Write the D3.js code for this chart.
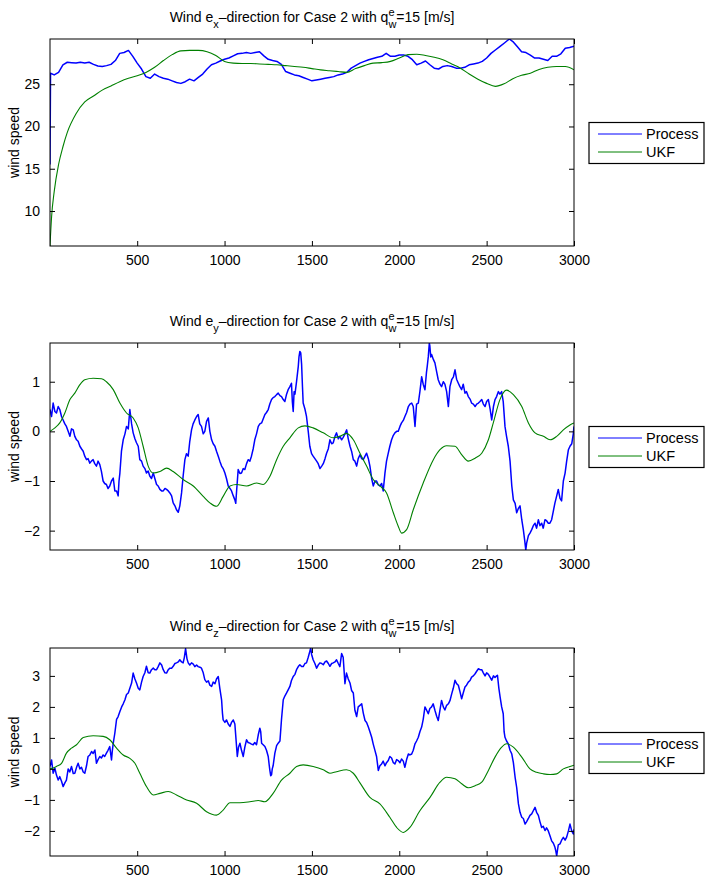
<!DOCTYPE html>
<html>
<head>
<meta charset="utf-8">
<script src="https://cdn.jsdelivr.net/npm/d3@7"></script>
<style>
  body { margin: 0; background: #fff; }
  svg { display: block; font-family: "Liberation Sans", Arial, Helvetica, sans-serif; }
</style>
</head>
<body>
<svg id="chart" width="705" height="878"></svg>
<script>
// ---- data: [time step, wind speed] ----
const xTickValues = [500, 1000, 1500, 2000, 2500, 3000];

const yTicksX = [10, 15, 20, 25];
const yTicksY = [-2, -1, 0, 1];
const yTicksZ = [-2, -1, 0, 1, 2, 3];

const processX = [[1,15.5],[4,26.3],[25,26.1],[50,26.4],[75,27.3],[100,27.6],[125,27.55],[150,27.5],[175,27.6],[200,27.5],[225,27.6],[250,27.35],[275,27.15],[300,27.1],[325,27.2],[350,27.35],[375,27.8],[400,28.65],[425,28.75],[450,29.0],[475,28.3],[500,27.5],[525,26.8],[550,25.9],[575,25.7],[600,26.2],[625,25.9],[650,25.7],[675,25.6],[700,25.4],[725,25.2],[750,25.1],[775,25.3],[800,25.6],[825,25.4],[850,25.8],[875,26.2],[900,26.8],[925,27.3],[950,27.5],[975,27.75],[1000,27.95],[1025,28.1],[1050,28.35],[1075,28.6],[1100,28.65],[1125,28.75],[1150,28.65],[1175,28.75],[1200,28.85],[1225,28.35],[1250,27.95],[1275,27.8],[1300,27.7],[1325,27.35],[1350,26.5],[1375,26.3],[1400,26.1],[1425,26.0],[1450,25.8],[1475,25.6],[1500,25.4],[1525,25.5],[1550,25.6],[1575,25.7],[1600,25.8],[1625,25.9],[1650,26.1],[1675,26.2],[1700,26.4],[1725,26.9],[1750,27.2],[1775,27.5],[1800,27.7],[1825,27.9],[1850,28.05],[1875,28.2],[1900,28.3],[1925,28.65],[1950,28.3],[1975,28.3],[2000,28.45],[2025,28.45],[2050,28.3],[2075,27.9],[2100,27.3],[2125,27.5],[2150,27.75],[2175,27.3],[2200,26.9],[2225,26.8],[2250,27.1],[2275,27.2],[2300,27.1],[2325,26.9],[2350,26.9],[2375,27.0],[2400,27.3],[2425,27.4],[2450,27.5],[2475,27.7],[2500,28.1],[2525,28.65],[2550,29.05],[2575,29.45],[2600,29.85],[2630,30.35],[2650,30.05],[2675,29.45],[2700,28.85],[2725,28.75],[2750,28.45],[2775,28.1],[2800,28.1],[2825,27.95],[2850,27.8],[2875,28.3],[2900,28.3],[2925,28.6],[2950,29.25],[2975,29.35],[3000,29.5]];

const ukfX = [[1,5.86],[10,9.3],[25,12.3],[50,15.5],[75,17.6],[100,19.3],[150,21.5],[200,22.9],[250,23.6],[300,24.3],[350,24.8],[400,25.3],[450,25.7],[500,26.0],[550,26.4],[600,27.0],[650,27.8],[700,28.5],[750,28.95],[800,29.0],[850,29.0],[900,28.85],[950,28.4],[1000,27.7],[1050,27.5],[1100,27.45],[1150,27.45],[1200,27.4],[1250,27.35],[1300,27.3],[1350,27.2],[1400,27.1],[1450,27.0],[1500,26.85],[1550,26.7],[1600,26.6],[1650,26.5],[1700,26.4],[1750,26.85],[1800,27.2],[1850,27.5],[1900,27.55],[1950,27.7],[2000,28.1],[2050,28.5],[2100,28.55],[2150,28.4],[2200,28.2],[2250,27.9],[2300,27.4],[2350,26.9],[2400,26.2],[2450,25.6],[2500,25.1],[2550,24.75],[2600,25.05],[2650,25.65],[2700,26.05],[2750,26.3],[2800,26.75],[2850,27.0],[2900,27.1],[2950,27.1],[3000,26.7]];

const processY = [[1,0.44],[10,0.3],[19,0.57],[29,0.4],[38,0.37],[48,0.5],[57,0.44],[67,0.3],[76,0.23],[86,0.15],[95,0.1],[105,0.0],[115,-0.1],[124,0.05],[134,0.03],[143,-0.1],[153,-0.17],[162,-0.2],[172,-0.3],[181,-0.35],[191,-0.4],[200,-0.5],[210,-0.57],[219,-0.55],[229,-0.64],[238,-0.6],[248,-0.57],[257,-0.65],[267,-0.7],[276,-0.6],[286,-0.67],[295,-0.8],[305,-1.0],[314,-1.05],[324,-1.07],[333,-1.15],[343,-1.1],[353,-1.0],[363,-0.94],[372,-1.2],[382,-1.2],[391,-1.3],[396,-1.0],[401,-0.84],[410,-0.4],[420,-0.17],[430,-0.05],[439,0.1],[449,0.05],[458,0.44],[468,0.15],[477,-0.03],[487,-0.15],[496,-0.23],[506,-0.3],[515,-0.57],[525,-0.6],[534,-0.7],[544,-0.75],[553,-0.84],[563,-0.8],[572,-0.9],[582,-0.95],[592,-0.84],[601,-0.95],[611,-1.07],[620,-1.1],[630,-1.17],[640,-1.2],[649,-1.2],[659,-1.15],[668,-1.17],[678,-1.2],[687,-1.24],[697,-1.3],[706,-1.44],[716,-1.5],[725,-1.58],[735,-1.63],[744,-1.5],[754,-1.24],[763,-0.9],[773,-0.57],[782,-0.45],[792,-0.5],[801,-0.2],[811,0.03],[820,0.15],[830,0.23],[840,0.3],[849,0.34],[858,0.15],[868,0.1],[878,-0.05],[887,0.0],[897,0.2],[907,0.27],[916,0.0],[926,-0.17],[935,-0.25],[945,-0.3],[954,-0.4],[964,-0.5],[973,-0.6],[983,-0.7],[992,-0.75],[1002,-0.84],[1011,-0.95],[1021,-1.1],[1031,-1.15],[1040,-1.2],[1050,-1.3],[1059,-1.38],[1064,-1.45],[1069,-1.2],[1078,-0.77],[1088,-0.85],[1097,-0.84],[1107,-0.75],[1116,-0.77],[1126,-0.65],[1135,-0.57],[1145,-0.6],[1154,-0.5],[1164,-0.35],[1173,-0.17],[1183,-0.05],[1193,0.1],[1202,0.15],[1212,0.17],[1221,0.25],[1231,0.34],[1240,0.38],[1250,0.44],[1259,0.55],[1269,0.64],[1278,0.68],[1288,0.7],[1298,0.74],[1307,0.77],[1317,0.72],[1326,0.7],[1336,0.64],[1345,0.6],[1355,0.75],[1364,0.84],[1374,0.9],[1383,0.97],[1388,0.6],[1393,0.4],[1398,0.8],[1403,0.75],[1412,1.0],[1422,1.31],[1426,1.5],[1431,1.61],[1436,1.58],[1441,1.35],[1446,0.9],[1450,0.57],[1460,0.45],[1469,0.3],[1479,0.0],[1488,-0.3],[1498,-0.45],[1507,-0.5],[1517,-0.55],[1527,-0.6],[1536,-0.65],[1546,-0.75],[1556,-0.7],[1565,-0.65],[1575,-0.55],[1584,-0.44],[1594,-0.35],[1603,-0.17],[1613,-0.25],[1622,-0.23],[1632,-0.1],[1641,-0.03],[1651,-0.15],[1660,-0.1],[1670,-0.17],[1679,-0.12],[1689,-0.05],[1699,0.03],[1708,-0.15],[1718,-0.3],[1727,-0.4],[1737,-0.57],[1746,-0.6],[1756,-0.7],[1765,-0.55],[1775,-0.47],[1785,-0.55],[1794,-0.57],[1804,-0.5],[1813,-0.44],[1823,-0.55],[1832,-0.7],[1842,-0.95],[1851,-1.1],[1861,-1.0],[1870,-1.0],[1880,-1.08],[1889,-1.1],[1899,-1.05],[1908,-1.2],[1918,-0.84],[1927,-0.6],[1937,-0.44],[1946,-0.3],[1956,-0.17],[1966,-0.08],[1975,-0.03],[1985,0.0],[1994,0.0],[2004,0.1],[2013,0.17],[2023,0.22],[2032,0.3],[2042,0.38],[2052,0.5],[2061,0.55],[2071,0.57],[2080,0.5],[2090,0.1],[2099,0.55],[2109,0.57],[2118,0.8],[2128,1.1],[2137,0.95],[2147,0.84],[2156,1.2],[2160,1.31],[2166,1.5],[2172,1.78],[2175,1.72],[2180,1.5],[2185,1.55],[2195,1.45],[2204,1.38],[2214,1.2],[2223,1.04],[2233,0.95],[2242,0.9],[2252,1.0],[2261,0.95],[2271,0.8],[2281,0.5],[2290,0.9],[2300,1.04],[2310,1.1],[2319,1.24],[2328,1.05],[2338,0.97],[2347,0.9],[2357,0.84],[2366,0.95],[2376,0.77],[2385,0.8],[2395,0.7],[2405,0.65],[2414,0.57],[2424,0.55],[2434,0.5],[2443,0.55],[2453,0.57],[2462,0.6],[2472,0.64],[2481,0.55],[2491,0.5],[2500,0.6],[2510,0.64],[2520,0.45],[2529,0.23],[2539,0.5],[2548,0.64],[2557,0.7],[2567,0.8],[2576,0.75],[2586,0.8],[2595,0.6],[2605,0.1],[2614,-0.1],[2624,-0.3],[2634,-0.6],[2644,-1.1],[2653,-1.38],[2663,-1.45],[2672,-1.64],[2682,-1.55],[2691,-1.5],[2701,-1.78],[2710,-1.98],[2718,-2.2],[2724,-2.39],[2729,-2.25],[2739,-2.1],[2748,-2.05],[2758,-1.98],[2767,-1.9],[2777,-1.85],[2786,-1.95],[2796,-1.78],[2805,-1.9],[2815,-1.85],[2824,-1.95],[2834,-1.78],[2843,-1.8],[2853,-1.85],[2862,-1.85],[2872,-1.78],[2882,-1.6],[2891,-1.44],[2901,-1.3],[2910,-1.17],[2920,-1.35],[2929,-1.4],[2939,-1.0],[2949,-0.84],[2958,-0.6],[2968,-0.37],[2977,-0.3],[2987,-0.25],[2996,-0.05],[3000,0.1]];

const ukfY = [[1,0],[29,0.07],[57,0.17],[86,0.37],[115,0.64],[143,0.77],[172,0.94],[200,1.04],[248,1.07],[296,1.06],[324,1.0],[363,0.84],[401,0.57],[439,0.37],[477,0.27],[506,0.07],[534,-0.3],[563,-0.7],[592,-0.84],[630,-0.81],[668,-0.74],[706,-0.81],[763,-0.97],[821,-1.1],[878,-1.31],[916,-1.44],[954,-1.51],[992,-1.31],[1031,-1.1],[1069,-1.07],[1126,-1.1],[1183,-1.04],[1221,-1.07],[1259,-0.91],[1298,-0.57],[1336,-0.3],[1374,-0.13],[1422,0.07],[1460,0.11],[1507,0.07],[1565,-0.03],[1622,-0.13],[1660,-0.1],[1698,-0.04],[1737,-0.17],[1775,-0.44],[1813,-0.7],[1851,-0.97],[1889,-1.1],[1927,-1.24],[1966,-1.64],[1994,-1.91],[2013,-2.05],[2042,-1.98],[2080,-1.58],[2137,-1.04],[2195,-0.57],[2233,-0.37],[2271,-0.29],[2319,-0.3],[2357,-0.47],[2395,-0.6],[2434,-0.54],[2472,-0.44],[2510,-0.17],[2538,0.17],[2576,0.64],[2614,0.83],[2653,0.74],[2701,0.5],[2739,0.17],[2777,-0.03],[2825,-0.1],[2863,-0.17],[2901,-0.1],[2939,0.03],[2977,0.13],[3000,0.17]];

const processZ = [[1,0.08],[10,0.29],[19,-0.14],[29,0.02],[38,-0.2],[48,-0.36],[57,-0.25],[67,-0.4],[76,-0.57],[86,-0.45],[95,-0.36],[105,0.0],[114,-0.1],[124,0.08],[134,-0.15],[143,-0.14],[153,0.05],[162,0.18],[172,0.0],[181,0.05],[191,-0.1],[200,-0.14],[210,0.1],[219,0.4],[229,0.45],[239,0.56],[248,0.5],[258,0.61],[267,0.18],[276,0.3],[286,0.4],[295,0.35],[305,0.45],[314,0.4],[324,0.51],[333,0.6],[343,0.72],[353,0.29],[358,0.6],[363,0.83],[372,1.15],[382,1.6],[391,1.69],[401,1.85],[411,2.0],[420,2.1],[430,2.23],[439,2.4],[449,2.45],[458,2.6],[468,2.77],[477,3.09],[487,2.9],[496,2.77],[506,2.6],[515,2.55],[525,2.8],[534,2.98],[544,3.1],[553,3.31],[563,3.1],[572,3.09],[582,3.2],[592,3.25],[601,3.2],[611,3.2],[620,3.3],[630,3.42],[640,3.35],[649,3.2],[659,3.1],[668,3.09],[678,3.2],[687,3.25],[697,3.25],[706,3.31],[716,3.4],[725,3.42],[735,3.45],[744,3.52],[754,3.45],[763,3.42],[770,3.6],[777,3.88],[785,3.55],[792,3.42],[801,3.35],[811,3.42],[821,3.38],[830,3.3],[840,3.35],[849,3.3],[859,3.28],[868,3.25],[878,3.1],[887,2.88],[897,2.8],[907,2.84],[916,2.7],[926,2.66],[935,2.8],[945,2.75],[954,2.9],[964,2.98],[973,2.6],[983,2.23],[988,1.8],[992,1.58],[1002,1.5],[1011,1.58],[1021,1.45],[1031,1.37],[1040,1.5],[1050,1.58],[1059,1.45],[1065,1.0],[1073,0.4],[1080,0.7],[1088,0.83],[1097,0.6],[1107,0.4],[1116,0.7],[1126,0.94],[1135,0.85],[1145,0.83],[1154,0.8],[1164,0.78],[1173,0.85],[1183,0.78],[1193,1.1],[1202,1.31],[1207,1.2],[1212,0.83],[1221,0.78],[1231,0.72],[1240,0.6],[1250,0.4],[1255,0.15],[1259,-0.03],[1264,-0.22],[1269,-0.19],[1273,0.0],[1278,0.1],[1288,0.51],[1298,0.75],[1307,0.83],[1317,0.9],[1326,1.6],[1336,2.23],[1345,2.35],[1355,2.45],[1364,2.55],[1374,2.66],[1383,2.85],[1393,2.98],[1403,3.05],[1412,3.2],[1422,3.3],[1431,3.36],[1441,3.3],[1450,3.3],[1460,3.4],[1469,3.42],[1479,3.6],[1488,3.79],[1493,3.9],[1498,3.7],[1507,3.52],[1517,3.4],[1527,3.25],[1536,3.35],[1546,3.42],[1556,3.4],[1565,3.36],[1575,3.45],[1584,3.48],[1594,3.4],[1603,3.31],[1613,3.4],[1622,3.42],[1632,3.45],[1641,3.52],[1651,3.4],[1660,3.3],[1670,3.72],[1679,3.6],[1689,2.75],[1698,3.09],[1708,2.9],[1718,2.77],[1727,2.53],[1737,2.45],[1746,1.89],[1756,1.69],[1765,2.0],[1775,2.05],[1785,2.1],[1794,1.8],[1804,1.56],[1813,1.5],[1823,1.35],[1832,1.2],[1842,1.02],[1851,0.8],[1861,0.59],[1870,0.4],[1880,-0.05],[1889,0.1],[1899,0.16],[1908,0.25],[1918,0.1],[1927,0.2],[1937,0.27],[1946,0.4],[1956,0.35],[1966,0.2],[1975,0.16],[1985,0.3],[1994,0.27],[2004,0.2],[2013,0.32],[2023,0.25],[2032,0.05],[2042,0.3],[2052,0.48],[2061,0.45],[2071,0.48],[2080,0.6],[2090,0.81],[2099,0.9],[2109,1.02],[2118,1.2],[2128,1.35],[2137,1.6],[2147,2.0],[2156,1.9],[2166,1.78],[2175,1.95],[2185,2.0],[2194,2.1],[2204,1.89],[2214,1.7],[2223,1.56],[2233,1.9],[2242,2.21],[2252,2.0],[2261,1.9],[2271,2.05],[2281,2.1],[2290,2.2],[2300,2.42],[2309,2.6],[2319,2.86],[2328,2.75],[2338,2.7],[2347,2.5],[2357,2.26],[2366,2.45],[2376,2.64],[2385,2.7],[2395,2.8],[2405,2.85],[2414,2.96],[2424,3.0],[2434,3.07],[2443,3.15],[2453,3.23],[2462,3.2],[2472,3.2],[2481,3.1],[2491,3.0],[2500,3.1],[2510,3.05],[2520,2.95],[2529,2.86],[2539,3.0],[2548,2.95],[2557,3.0],[2562,3.02],[2570,2.6],[2577,2.32],[2586,2.0],[2595,1.78],[2600,1.2],[2605,1.02],[2614,0.9],[2624,0.81],[2634,0.6],[2644,0.48],[2653,0.2],[2663,-0.27],[2672,-0.6],[2682,-1.13],[2691,-1.4],[2701,-1.56],[2710,-1.6],[2720,-1.78],[2729,-1.7],[2739,-1.6],[2748,-1.5],[2758,-1.45],[2767,-1.35],[2777,-1.24],[2786,-1.4],[2796,-1.5],[2805,-1.7],[2815,-1.89],[2824,-1.85],[2834,-1.99],[2843,-1.9],[2853,-2.0],[2862,-2.15],[2872,-2.32],[2882,-2.4],[2891,-2.53],[2896,-2.65],[2901,-2.81],[2906,-2.6],[2910,-2.45],[2920,-2.42],[2929,-2.3],[2939,-2.21],[2949,-2.3],[2958,-2.2],[2968,-2.0],[2977,-1.78],[2987,-2.0],[2996,-2.1],[3000,-1.95]];

const ukfZ = [[1,0],[38,0.08],[67,0.18],[95,0.51],[124,0.67],[153,0.78],[191,1.01],[248,1.07],[305,1.05],[343,0.94],[382,0.67],[420,0.45],[458,0.34],[487,0.18],[515,-0.14],[553,-0.57],[592,-0.84],[630,-0.79],[678,-0.73],[725,-0.84],[783,-1.0],[840,-1.11],[897,-1.38],[954,-1.49],[992,-1.33],[1031,-1.09],[1088,-1.09],[1145,-1.06],[1193,-1.02],[1231,-1.06],[1278,-0.79],[1326,-0.36],[1374,-0.14],[1412,0.08],[1450,0.13],[1507,0.08],[1565,-0.03],[1603,-0.14],[1641,-0.09],[1698,-0.03],[1737,-0.14],[1775,-0.45],[1832,-0.92],[1889,-1.13],[1946,-1.56],[1985,-1.89],[2023,-2.05],[2061,-1.89],[2118,-1.35],[2176,-0.92],[2233,-0.43],[2271,-0.27],[2319,-0.32],[2357,-0.48],[2395,-0.61],[2434,-0.54],[2472,-0.43],[2510,-0.05],[2548,0.38],[2586,0.7],[2614,0.81],[2653,0.7],[2701,0.38],[2748,0.0],[2786,-0.11],[2825,-0.16],[2863,-0.18],[2901,-0.16],[2939,0.0],[2977,0.08],[3000,0.12]];

const seriesNames = ["Process", "UKF"];
const seriesColors = ["#0000ff", "#008000"];

// ---- layout ----
const svg = d3.select("#chart");
const left = 50, right = 574;
const panels = [
  { sub: "x", process: processX, ukf: ukfX, ticks: yTicksX, top: 39,  bottom: 246 },
  { sub: "y", process: processY, ukf: ukfY, ticks: yTicksY, top: 343, bottom: 550 },
  { sub: "z", process: processZ, ukf: ukfZ, ticks: yTicksZ, top: 648, bottom: 856 }
];
const fmt = v => (v < 0 ? "\u2212" + Math.abs(v) : String(v));

panels.forEach((p, i) => {
  const x = d3.scaleLinear().domain([1, 3000]).range([left, right]);
  // tight limits: the axis spans exactly the data range
  const ext = d3.extent(p.process.concat(p.ukf), d => d[1]);
  const y = d3.scaleLinear().domain(ext).range([p.bottom, p.top]);
  const g = svg.append("g");

  const clipId = "clip" + i;
  svg.append("clipPath").attr("id", clipId)
    .append("rect").attr("x", left).attr("y", p.top)
    .attr("width", right - left).attr("height", p.bottom - p.top);

  const plot = g.append("g").attr("clip-path", `url(#${clipId})`);
  const lineLin = d3.line().x(d => x(d[0])).y(d => y(d[1]));
  const lineSmooth = d3.line().curve(d3.curveMonotoneX).x(d => x(d[0])).y(d => y(d[1]));

  plot.append("path").datum(p.process).attr("d", lineLin)
    .attr("fill", "none").attr("stroke", seriesColors[0]).attr("stroke-width", 1.5)
    .attr("stroke-linejoin", "round");
  plot.append("path").datum(p.ukf).attr("d", lineSmooth)
    .attr("fill", "none").attr("stroke", seriesColors[1]).attr("stroke-width", 1.1);

  // axes with inward ticks on all four sides
  const tickLen = 5;
  const axB = d3.axisBottom(x).tickValues(xTickValues).tickSizeInner(-tickLen).tickSizeOuter(0).tickPadding(9).tickFormat(d3.format("d"));
  const axT = d3.axisTop(x).tickValues(xTickValues).tickSizeInner(-tickLen).tickSizeOuter(0).tickFormat("");
  const axL = d3.axisLeft(y).tickValues(p.ticks).tickSizeInner(-tickLen).tickSizeOuter(0).tickPadding(10).tickFormat(fmt);
  const axR = d3.axisRight(y).tickValues(p.ticks).tickSizeInner(-tickLen).tickSizeOuter(0).tickFormat("");

  const styleAxis = sel => {
    sel.selectAll(".domain").remove();
    sel.selectAll("line").attr("stroke", "#000");
    sel.selectAll("text").attr("fill", "#000").style("font-size", "14px");
    sel.attr("font-family", null);
  };
  g.append("g").attr("transform", `translate(0,${p.bottom})`).call(axB).call(styleAxis);
  g.append("g").attr("transform", `translate(0,${p.top})`).call(axT).call(styleAxis);
  g.append("g").attr("transform", `translate(${left},0)`).call(axL).call(styleAxis);
  g.append("g").attr("transform", `translate(${right},0)`).call(axR).call(styleAxis);

  g.append("rect").attr("x", left).attr("y", p.top)
    .attr("width", right - left).attr("height", p.bottom - p.top)
    .attr("fill", "none").attr("stroke", "#000").attr("stroke-width", 1);

  // y label
  const cy = (p.top + p.bottom) / 2;
  g.append("text").attr("transform", `translate(19,${cy}) rotate(-90)`)
    .attr("text-anchor", "middle").style("font-size", "14px").text("wind speed");

  // title with sub/superscripts
  const t = g.append("text").attr("x", (left + right) / 2).attr("y", p.top - 17)
    .attr("text-anchor", "middle").style("font-size", "14px");
  t.append("tspan").text("Wind e");
  t.append("tspan").attr("dy", 6).style("font-size", "11px").text(p.sub);
  t.append("tspan").attr("dy", -6).text("\u2013direction for Case 2 with q");
  t.append("tspan").attr("dy", -6).style("font-size", "11px").text("e");
  t.append("tspan").attr("dy", 12).attr("dx", -6.1).style("font-size", "11px").text("w");
  t.append("tspan").attr("dy", -6).text("=15 [m/s]");

  // legend
  const lx = 589, lw = 115, lh = 41, ly = Math.round(cy - lh / 2) + 0.5;
  const lg = g.append("g");
  lg.append("rect").attr("x", lx).attr("y", ly).attr("width", lw).attr("height", lh)
    .attr("fill", "#fff").attr("stroke", "#000").attr("stroke-width", 1.2);
  seriesNames.forEach((name, k) => {
    const yy = Math.round(ly + 11 + k * 18);
    lg.append("line").attr("x1", 598).attr("x2", 642).attr("y1", yy).attr("y2", yy)
      .attr("stroke", seriesColors[k]).attr("stroke-width", 1);
    lg.append("text").attr("x", 646).attr("y", yy + 5).style("font-size", "14.5px").text(name);
  });
});
</script>
</body>
</html>
